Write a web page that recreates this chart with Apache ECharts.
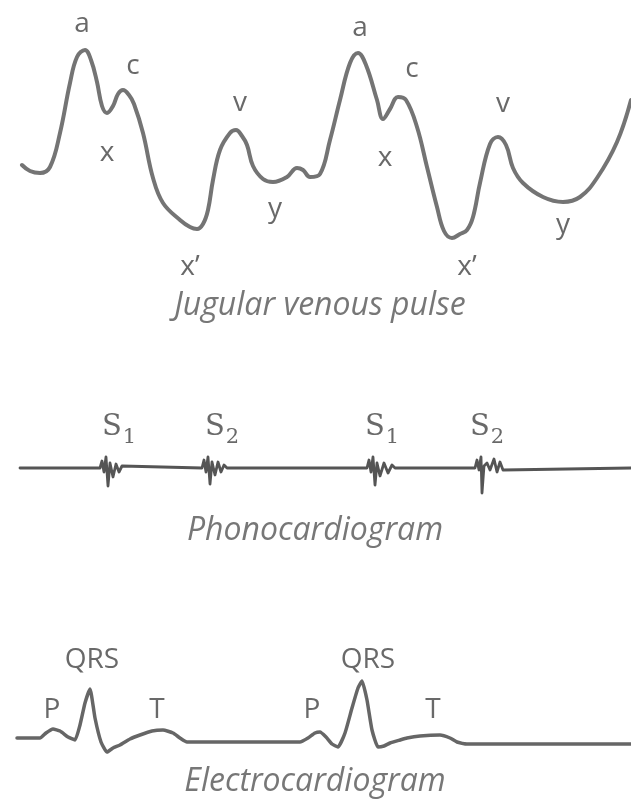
<!DOCTYPE html>
<html>
<head>
<meta charset="utf-8">
<script src="https://cdn.jsdelivr.net/npm/echarts@6/dist/echarts.min.js"></script>
<style>
  html, body { margin: 0; padding: 0; background: #fff; }
  #chart { width: 631px; height: 800px; }
</style>
</head>
<body>
<div id="chart"></div>
<script>
// traced curves, [x, y] in drawing units (y grows downward)
const jvpPoints = [
  [22,165],[30,171],[40,173],[50,167],[60,133],[70,83],[77,57],[85,50],[91,60],[97,82],[102,106],
  [107,113],[113,106],[118,94],[123,90],[129,95],[134,104],[143,133],[153,178],[163,203],[180,220],
  [190,227],[197,229],[203,224],[208,210],[213,180],[220,150],[230,133],[236,130],[242,136],
  [247,145],[253,166],[263,179],[273,182],[287,177],[297,168],[303,170],[310,177],[320,174],
  [330,140],[340,100],[350,63],[358,53],[366,65],[377,100],[383,119],[390,109],[398,97],[406,100],
  [417,127],[427,167],[437,207],[444,231],[452,238],[460,234],[467,230],[473,217],[480,183],
  [490,144],[498,137],[506,145],[513,168],[523,183],[543,197],[563,202],[580,197],[597,178],
  [617,142],[631,100]
];

const phonoPoints = [
  [20,468],
  [100,468],[102,461],[104,472],[106,457],[108,486],[110,463],[113,477],[116,464],[119,472],[122,466],[124,468],
  [202,468],[204,460],[206,472],[208,457],[210,484],[212,462],[215,475],[218,462],[221,472],[224,465],[227,468],
  [367,468],[369,460],[371,472],[373,457],[375,485],[377,463],[380,476],[384,463],[388,473],[392,465],[395,468],
  [475,468],[477,460],[479,470],[481,457],[482,493],[484,466],[487,463],[490,470],[494,459],[497,472],[500,462],[503,470],[505,468],
  [631,468]
];

const ecgPoints = [
  [17,738],[40,738],[46,733],[53,729],[60,731],[68,737],[75,740],[80,725],[85,703],[90,689],[95,718],
  [101,742],[107,752],[113,748],[120,745],[130,739],[140,735],[152,731],[163,730],[173,733],[180,738],
  [187,742],[300,742],[308,738],[315,733],[320,732],[326,737],[332,744],[338,747],[345,733],[352,708],
  [358,688],[362,681],[367,700],[372,730],[378,747],[384,746],[390,743],[400,740],[407,738],[420,736],
  [440,735],[450,738],[457,742],[467,744],[631,744]
];

const waveLabels = [
  [82,24,'a'],[133,66,'c'],[107,153,'x'],[240,103,'v'],[190,267,'x\u2019'],[275,209,'y'],
  [360,28,'a'],[412,69,'c'],[385,158,'x'],[503,104,'v'],[467,267,'x\u2019'],[563,225,'y'],
  [92,660,'QRS'],[52,710,'P'],[157,710,'T'],[312,710,'P'],[368,660,'QRS'],[433,710,'T']
];

const soundLabels = [
  [119,426,'1'],[222,426,'2'],[382,426,'1'],[487,426,'2']
];

const captions = [
  [320,306,'Jugular venous pulse'],
  [315,531,'Phonocardiogram'],
  [315,782,'Electrocardiogram']
];

const chart = echarts.init(document.getElementById('chart'), null, { renderer: 'canvas' });

const lineSeries = (name, data, color, width, smooth) => ({
  name,
  type: 'line',
  data,
  smooth,
  showSymbol: false,
  silent: true,
  lineStyle: { color, width, cap: 'round', join: 'round' }
});

const option = {
  animation: false,
  backgroundColor: '#fff',
  grid: { left: 0, right: 0, top: 0, bottom: 0 },
  xAxis: { type: 'value', min: 0, max: 631, show: false },
  yAxis: { type: 'value', min: 0, max: 800, inverse: true, show: false },
  series: [
    lineSeries('Jugular venous pulse', jvpPoints, '#747474', 4, 0.4),
    lineSeries('Phonocardiogram', phonoPoints, '#555', 2.8, false),
    lineSeries('Electrocardiogram', ecgPoints, '#666', 3.5, 0.15),
    {
      name: 'labels',
      type: 'scatter',
      symbolSize: 0,
      silent: true,
      data: waveLabels,
      label: {
        show: true,
        position: 'inside',
        formatter: p => p.data[2],
        color: '#444',
        fontSize: 28,
        fontFamily: 'Open Sans'
      }
    },
    {
      name: 'sounds',
      type: 'scatter',
      symbolSize: 0,
      silent: true,
      data: soundLabels,
      label: {
        show: true,
        position: 'inside',
        formatter: p => '{s|S}{n|' + p.data[2] + '}',
        rich: {
          s: { fontSize: 29, fontFamily: 'DejaVu Serif', color: '#444', verticalAlign: 'bottom', lineHeight: 32 },
          n: { fontSize: 21, fontFamily: 'DejaVu Serif', color: '#444', verticalAlign: 'bottom', lineHeight: 24, padding: [0, 0, -6, 1] }
        }
      }
    },
    {
      name: 'captions',
      type: 'scatter',
      symbolSize: 0,
      silent: true,
      data: captions,
      label: {
        show: true,
        position: 'inside',
        formatter: p => p.data[2],
        color: '#555',
        fontSize: 32,
        fontStyle: 'italic',
        fontFamily: 'Open Sans'
      }
    }
  ]
};

chart.setOption(option);
</script>
</body>
</html>
